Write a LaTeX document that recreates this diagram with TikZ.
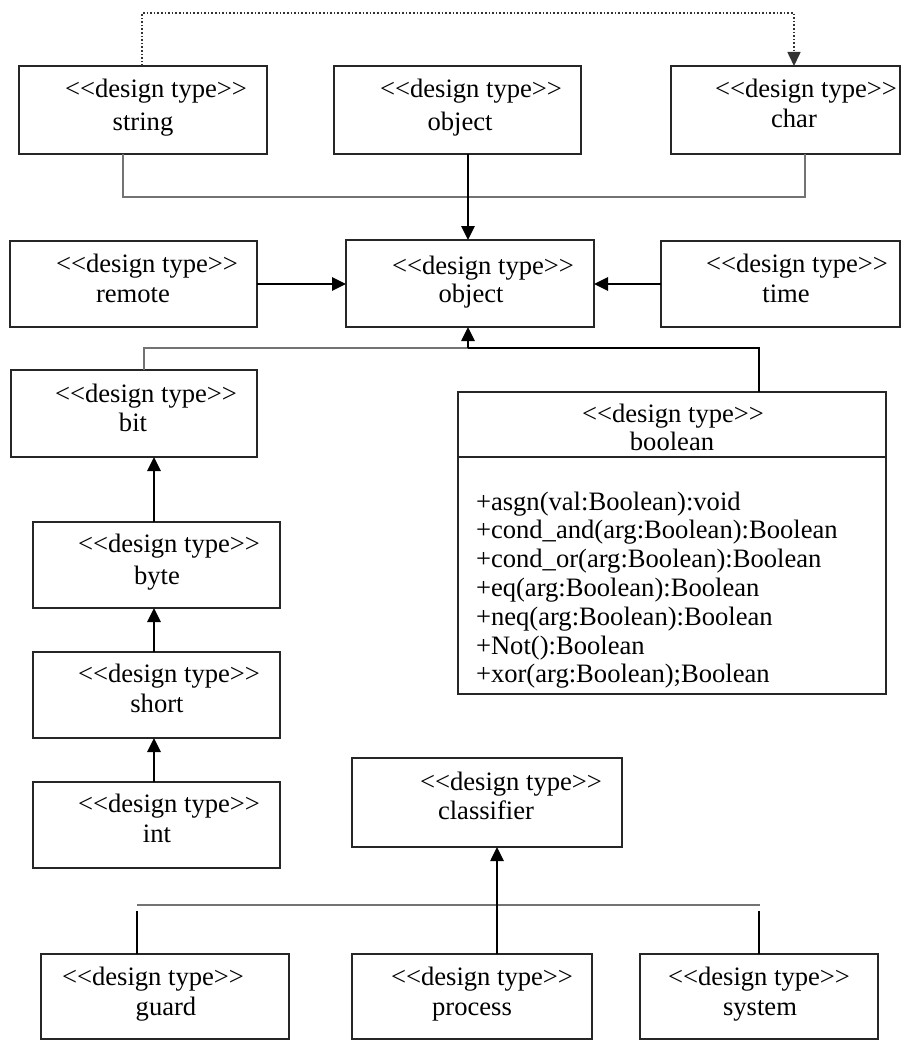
\documentclass[tikz,border=0pt]{standalone}
\usepackage{fontspec}
\setmainfont{Liberation Serif}
\usetikzlibrary{arrows.meta}

% the kerns keep the two angle brackets from merging into a guillemet
\newcommand{\dtype}{<\kern0pt<design type>\kern0pt>}

\begin{document}
\begin{tikzpicture}[x=1pt, y=-1pt,
  box/.style={draw=black!85, line width=1.8pt, inner sep=0pt, outer sep=0pt},
  lbl/.style={inner sep=0pt, outer sep=0pt, font=\fontsize{26.6}{29}\selectfont},
  arr/.style={draw=black, line width=2.6pt, -{Triangle[length=14pt,width=13pt]}},
  bar/.style={draw=black!55, line width=2.4pt},
  thin/.style={draw=black, line width=1.8pt},
  dotline/.style={draw=black!80, line width=1.6pt, dotted, -{Triangle[length=14pt,width=13pt]}}]

\useasboundingbox (0,0) rectangle (904,1041);
\fill[white] (0,0) rectangle (904,1041);

% ---------- boxes ----------
\node[box, minimum width=248pt, minimum height=88pt] (string) at (143,110) {};
\node[box, minimum width=247pt, minimum height=88pt] (obj1)   at (457.5,110) {};
\node[box, minimum width=229pt, minimum height=88pt] (char)   at (785.5,110) {};

\node[box, minimum width=247pt, minimum height=86pt] (remote) at (133.5,284) {};
\node[box, minimum width=248pt, minimum height=87pt] (obj2)   at (470,283.5) {};
\node[box, minimum width=239pt, minimum height=86pt] (time)   at (780.5,284) {};

\node[box, minimum width=246pt, minimum height=87pt] (bit)    at (134,413.5) {};
\node[box, minimum width=247pt, minimum height=86pt] (byte)   at (156.5,565) {};
\node[box, minimum width=247pt, minimum height=86pt] (short)  at (156.5,695) {};
\node[box, minimum width=247pt, minimum height=86pt] (int)    at (156.5,825) {};

\node[box, minimum width=428pt, minimum height=65pt]  (bool)     at (672,424.5) {};
\node[box, minimum width=428pt, minimum height=237pt] (boolbody) at (672,575.5) {};

\node[box, minimum width=270pt, minimum height=89pt] (classifier) at (487,802.5) {};
\node[box, minimum width=248pt, minimum height=85pt] (guard)   at (165,996.5) {};
\node[box, minimum width=240pt, minimum height=85pt] (process) at (472,996.5) {};
\node[box, minimum width=238pt, minimum height=85pt] (system)  at (759,996.5) {};

% ---------- labels ----------
\node[lbl, anchor=base] (stringA) at (156,97)  {\dtype};
\node[lbl, anchor=base] (stringB) at (143,130) {string};
\node[lbl, anchor=base] (obj1A)   at (471,97)  {\dtype};
\node[lbl, anchor=base] (obj1B)   at (460,130) {object};
\node[lbl, anchor=base] (charA)   at (806,97)  {\dtype};
\node[lbl, anchor=base] (charB)   at (794,127) {char};

\node[lbl, anchor=base] (remoteA) at (147,272) {\dtype};
\node[lbl, anchor=base] (remoteB) at (133,302) {remote};
\node[lbl, anchor=base] (obj2A)   at (483,274) {\dtype};
\node[lbl, anchor=base] (obj2B)   at (471,302) {object};
\node[lbl, anchor=base] (timeA)   at (797,272) {\dtype};
\node[lbl, anchor=base] (timeB)   at (786,302) {time};

\node[lbl, anchor=base] (bitA)    at (146,402) {\dtype};
\node[lbl, anchor=base] (bitB)    at (133,431) {bit};
\node[lbl, anchor=base] (byteA)   at (169,552) {\dtype};
\node[lbl, anchor=base] (byteB)   at (157,584) {byte};
\node[lbl, anchor=base] (shortA)  at (169,682) {\dtype};
\node[lbl, anchor=base] (shortB)  at (157,712) {short};
\node[lbl, anchor=base] (intA)    at (169,812) {\dtype};
\node[lbl, anchor=base] (intB)    at (157,842) {int};

\node[lbl, anchor=base] (boolA)   at (673,422) {\dtype};
\node[lbl, anchor=base] (boolB)   at (672,450) {boolean};
\foreach \t [count=\i from 0] in {%
    +asgn(val:Boolean):void,
    +cond\_and(arg:Boolean):Boolean,
    +cond\_or(arg:Boolean):Boolean,
    +eq(arg:Boolean):Boolean,
    +neq(arg:Boolean):Boolean,
    +Not():Boolean,
    +xor(arg:Boolean);Boolean}
  \node[lbl, anchor=base west] (op\i) at (476,510+28.8*\i) {\t};

\node[lbl, anchor=base] (classA)  at (511,790)  {\dtype};
\node[lbl, anchor=base] (classB)  at (486,819)  {classifier};
\node[lbl, anchor=base] (guardA)  at (153,985)  {\dtype};
\node[lbl, anchor=base] (guardB)  at (166,1015) {guard};
\node[lbl, anchor=base] (procA)   at (482,985)  {\dtype};
\node[lbl, anchor=base] (procB)   at (472,1015) {process};
\node[lbl, anchor=base] (sysA)    at (759,985)  {\dtype};
\node[lbl, anchor=base] (sysB)    at (760,1015) {system};

% ---------- junction points ----------
\coordinate (dtop)  at (0,13);
\coordinate (jtop)  at (468,197);
\coordinate (jmid)  at (468,348);
\coordinate (col)   at (154,0);
\coordinate (jlow)  at (497,905);
\coordinate (gtop)  at (0,911);

% ---------- connectors ----------
% dependency string -> char
\draw[dotline] ([xshift=-1pt]string.north) -- ([xshift=-1pt]string.north |- dtop)
  -| ([xshift=8.5pt]char.north);

% string / object / char -> object
\draw[bar] ([xshift=-20pt]string.south) |- (jtop) -| ([xshift=19.5pt]char.south);
\draw[arr] (obj1.south -| jtop) -- (obj2.north -| jtop);
\draw[arr] (remote.east) -- (obj2.west |- remote.east);
\draw[arr] (time.west) -- (obj2.east |- time.west);

% bit / boolean -> object
\draw[bar] ([xshift=10pt]bit.north) |- (jmid);
\draw[thin] (jmid) -| ([xshift=87pt]bool.north);
\draw[arr] (jmid) -- (obj2.south -| jmid);

% int -> short -> byte -> bit
\draw[arr] (byte.north -| col)  -- (bit.south -| col);
\draw[arr] (short.north -| col) -- (byte.south -| col);
\draw[arr] (int.north -| col)   -- (short.south -| col);

% guard / process / system -> classifier
\draw[bar] (137,905) -- (760,905);
\draw[thin] ([xshift=-28pt]guard.north) -- ([xshift=-28pt]guard.north |- gtop);
\draw[thin] (system.north) -- (system.north |- gtop);
\draw[arr] (process.north -| jlow) -- (classifier.south -| jlow);

\end{tikzpicture}
\end{document}
